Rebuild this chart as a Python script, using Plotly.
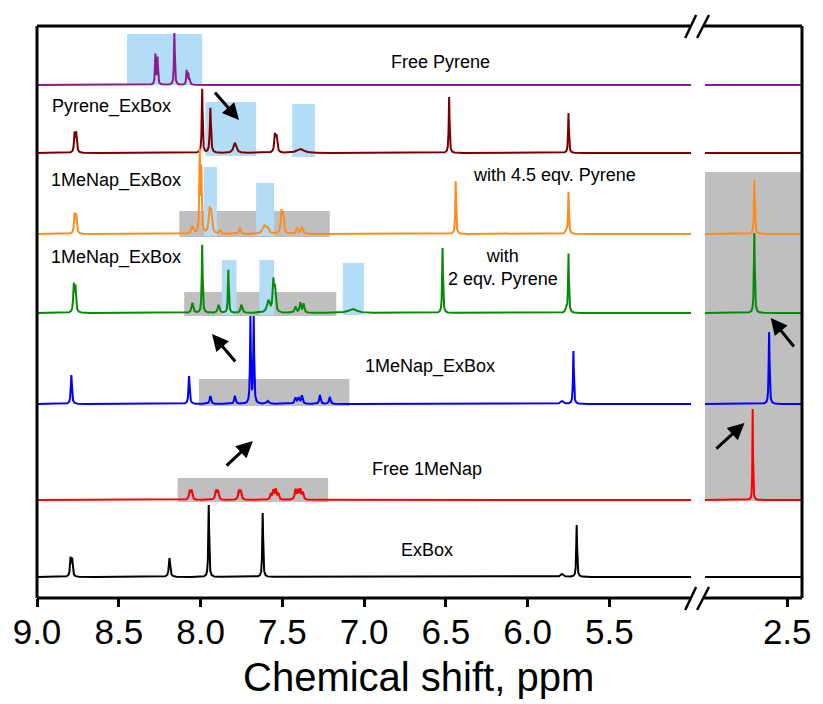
import numpy as np
import plotly.graph_objects as go

# ---------------- data ----------------
# stacking offsets of each spectrum (intensity units)
spectrum_names = ["Free Pyrene", "Pyrene_ExBox", "1MeNap_ExBox + 4.5 eqv. Pyrene",
                  "1MeNap_ExBox + 2 eqv. Pyrene", "1MeNap_ExBox", "Free 1MeNap", "ExBox"]
offsets = [513, 445, 364, 285, 194, 98, 21]
colors = ["#8B1C8E", "#7A0000", "#FF8C1A", "#078A07", "#0000FF", "#FF0000", "#000000"]

# peaks: (ppm, height, half-width ppm)
peaks_free_pyrene = [(8.276, 30, 0.003), (8.263, 27, 0.003), (8.16, 52, 0.003),
                     (8.085, 14, 0.003), (8.075, 11, 0.003), (8.066, 5, 0.003)]
peaks_pyrene_exbox = [(8.770, 19, 0.004), (8.760, 19, 0.004), (7.99, 64, 0.003),
                      (7.94, 45, 0.004), (7.79, 10, 0.010), (7.545, 17, 0.005),
                      (7.535, 15, 0.005), (7.39, 4, 0.025), (6.48, 56, 0.003),
                      (5.75, 40, 0.003)]
peaks_menap_45 = [(8.770, 19, 0.004), (8.760, 18, 0.004), (8.05, 7, 0.008),
                  (8.005, 80, 0.003), (7.995, 62, 0.003), (7.945, 22, 0.006),
                  (7.935, 18, 0.006), (7.88, 3, 0.006), (7.76, 6, 0.006),
                  (7.61, 8, 0.012), (7.59, 5, 0.008), (7.505, 21, 0.005),
                  (7.495, 18, 0.005), (7.41, 6, 0.006), (7.38, 7, 0.006),
                  (6.44, 53, 0.003), (5.765, 3, 0.005), (5.75, 42, 0.003)]
peaks_menap_2 = [(8.775, 27, 0.004), (8.765, 25, 0.004), (8.05, 10, 0.006),
                 (7.99, 68, 0.003), (7.89, 8, 0.006), (7.83, 43, 0.003),
                 (7.75, 8, 0.006), (7.585, 12, 0.010), (7.555, 30, 0.005),
                 (7.545, 22, 0.005), (7.42, 6, 0.006), (7.39, 10, 0.005),
                 (7.37, 9, 0.005), (7.07, 4, 0.030), (6.52, 65, 0.003),
                 (5.765, 4, 0.005), (5.75, 59, 0.003)]
peaks_menap = [(8.79, 29, 0.004), (8.07, 28, 0.004), (7.94, 8, 0.005),
               (7.79, 8, 0.005), (7.695, 86, 0.003), (7.675, 86, 0.003),
               (7.59, 3, 0.008), (7.42, 6, 0.006), (7.40, 6, 0.006),
               (7.38, 8, 0.005), (7.27, 9, 0.005), (7.21, 7, 0.005),
               (5.79, 3, 0.010), (5.72, 53, 0.003)]
peaks_free_menap = [(8.066, 9, 0.005), (8.054, 9, 0.005), (7.906, 9, 0.005),
                    (7.894, 9, 0.005), (7.766, 9, 0.005), (7.754, 9, 0.005),
                    (7.57, 6, 0.005), (7.555, 9, 0.005), (7.54, 10, 0.005),
                    (7.525, 6, 0.005), (7.42, 10, 0.005), (7.405, 9, 0.005),
                    (7.39, 10, 0.005), (7.375, 7, 0.005)]
peaks_exbox = [(8.795, 18, 0.004), (8.785, 17, 0.004), (8.19, 19, 0.005),
               (7.95, 72, 0.003), (7.62, 64, 0.003), (5.79, 3, 0.010),
               (5.70, 52, 0.003)]

# peaks in the 2.4–3.0 ppm window (methyl region)
peaks_right = [[], [], [(2.70, 54, 0.003)], [(2.70, 80, 0.003)],
               [(2.61, 72, 0.003)], [(2.71, 91, 0.002)], []]

peaks_left = [peaks_free_pyrene, peaks_pyrene_exbox, peaks_menap_45,
              peaks_menap_2, peaks_menap, peaks_free_menap, peaks_exbox]

# highlight regions: (ppm_high, ppm_low, y_bottom, y_top)
blue_regions = [(8.45, 7.99, 513, 564), (7.97, 7.66, 442, 496), (7.44, 7.30, 441, 494),
                (7.98, 7.90, 362, 431), (7.66, 7.55, 362, 415),
                (7.87, 7.78, 283, 338), (7.64, 7.55, 283, 338), (7.13, 7.00, 283, 335)]
gray_regions = [(8.13, 7.21, 361, 387), (8.10, 7.17, 282, 306),
                (8.01, 7.09, 192, 219), (8.14, 7.22, 96, 120)]
gray_right = (3.0, 2.41, 97, 426)

x_ticks_left = [9.0, 8.5, 8.0, 7.5, 7.0, 6.5, 6.0, 5.5]
x_ticks_right = [2.5]

# ---------------- figure geometry ----------------
W, H = 823, 704
L, R, T, B = 37, 810, 26, 598
PW, PH = R - L, B - T
split_l, split_r = 698, 712


def px(X):
    return (X - L) / PW


def py(Y):
    return (B - Y) / PH


def spectrum(x, peaks, offset):
    y = np.full(x.shape, float(offset))
    for p, h, w in peaks:
        y += h * w ** 2 / ((x - p) ** 2 + w ** 2)
    return y


fig = go.Figure()
for i in range(len(offsets)):
    xl = np.linspace(9.0, 5.0, 8001)
    xl = np.sort(np.concatenate([xl, [p for p, _, _ in peaks_left[i]]]))[::-1]
    fig.add_trace(go.Scatter(x=xl, y=spectrum(xl, peaks_left[i], offsets[i]),
                             mode="lines", line=dict(color=colors[i], width=2),
                             xaxis="x", yaxis="y", name=spectrum_names[i],
                             showlegend=False, hoverinfo="skip"))
    xr = np.linspace(3.0, 2.41, 1201)
    xr = np.sort(np.concatenate([xr, [p for p, _, _ in peaks_right[i]]]))[::-1]
    fig.add_trace(go.Scatter(x=xr, y=spectrum(xr, peaks_right[i], offsets[i]),
                             mode="lines", line=dict(color=colors[i], width=2),
                             xaxis="x2", yaxis="y", name=spectrum_names[i],
                             showlegend=False, hoverinfo="skip"))

shapes = []
for a, b, y0, y1 in gray_regions:
    shapes.append(dict(type="rect", xref="x", yref="y", x0=a, x1=b, y0=y0, y1=y1,
                       fillcolor="#BFBFBF", line=dict(width=0), layer="below"))
shapes.append(dict(type="rect", xref="x2", yref="y", x0=gray_right[0], x1=gray_right[1],
                   y0=gray_right[2], y1=gray_right[3],
                   fillcolor="#BFBFBF", line=dict(width=0), layer="below"))
for a, b, y0, y1 in blue_regions:
    shapes.append(dict(type="rect", xref="x", yref="y", x0=a, x1=b, y0=y0, y1=y1,
                       fillcolor="#B3DDF7", line=dict(width=0), layer="below"))


def pline(x0, y0, x1, y1, w=3):
    return dict(type="line", xref="paper", yref="paper", x0=px(x0), y0=py(y0),
                x1=px(x1), y1=py(y1), line=dict(color="black", width=w), layer="above")


shapes += [
    pline(L, T, L, B), pline(R, T, R, B),
    pline(L, T, 697, T), pline(711, T, R, T),
    pline(L, B, 697, B), pline(711, B, R, B),
    pline(692, T + 12, 703, T - 11, 2.5), pline(704, T + 12, 716, T - 11, 2.5),
    pline(692, B + 12, 703, B - 11, 2.5), pline(704, B + 12, 716, B - 11, 2.5),
]

annotations = []
txt_font = dict(family="Arial, Liberation Sans", size=18, color="black")


def label(text, X, Y, anchor="center"):
    annotations.append(dict(text=text, xref="paper", yref="paper", x=px(X), y=py(Y),
                            xanchor=anchor, yanchor="middle", showarrow=False,
                            font=txt_font, align="center"))


label("Free Pyrene", 445, 62)
label("Pyrene_ExBox", 50, 106, "left")
label("1MeNap_ExBox", 49, 181, "left")
label("with 4.5 eqv. Pyrene", 476, 175, "left")
label("1MeNap_ExBox", 49, 257, "left")
label("with<br>2 eqv. Pyrene", 508, 267)
label("1MeNap_ExBox", 434, 366)
label("Free 1MeNap", 431, 469)
label("ExBox", 431, 550)

annotations.append(dict(text="Chemical shift, ppm", xref="paper", yref="paper",
                        x=px(422), y=py(677), xanchor="center", yanchor="middle",
                        showarrow=False,
                        font=dict(family="Arial, Liberation Sans", size=40, color="black")))


def arrow(xref, tail, tip):
    annotations.append(dict(text="", xref=xref, yref="y", axref=xref, ayref="y",
                            x=tip[0], y=tip[1], ax=tail[0], ay=tail[1],
                            showarrow=True, arrowhead=2, arrowsize=1.1,
                            arrowwidth=3, arrowcolor="black"))


arrow("x", (7.92, 507), (7.765, 478))
arrow("x", (7.78, 235), (7.93, 264))
arrow("x", (7.85, 131), (7.68, 157))
arrow("x2", (2.452, 250), (2.60, 280))
arrow("x2", (2.94, 148), (2.76, 175))

tick_font = dict(family="Arial, Liberation Sans", size=35, color="black")
axis_common = dict(showgrid=False, zeroline=False, showline=False, ticks="outside",
                   ticklen=8, tickwidth=2.5, tickcolor="black", tickfont=tick_font,
                   ticklabelstandoff=-5, fixedrange=True)
fig.update_layout(
    width=W, height=H,
    margin=dict(l=L, r=W - R, t=T, b=H - B, pad=0),
    paper_bgcolor="white", plot_bgcolor="white",
    showlegend=False,
    xaxis=dict(domain=[0, px(split_l)], range=[9.0, 5.0], tickvals=x_ticks_left,
               ticktext=[f"{v:.1f}" for v in x_ticks_left], **axis_common),
    xaxis2=dict(domain=[px(split_r), 1], range=[3.0, 2.41], tickvals=x_ticks_right,
                ticktext=[f"{v:.1f}" for v in x_ticks_right], anchor="y",
                **axis_common),
    yaxis=dict(range=[0, PH], visible=False, fixedrange=True),
    shapes=shapes,
    annotations=annotations,
)

fig.write_html("out.html")
